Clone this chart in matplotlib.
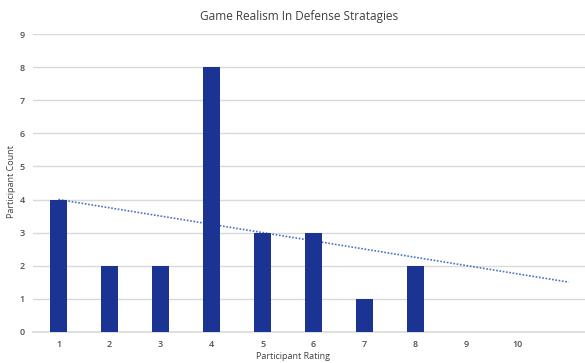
import numpy as np
import matplotlib
matplotlib.use("Agg")
import matplotlib.pyplot as plt

# Rating categories (the last slot is left unlabeled for the trend projection)
ratings = ["1", "2", "3", "4", "5", "6", "7", "8", "9", "10", ""]
counts = [4, 2, 2, 8, 3, 3, 1, 2, 0, 0, 0]
fit_points = 8       # linear trend fitted on ratings 1-8 ...
forward_periods = 3  # ... and projected forward

plt.rcParams["font.family"] = ["Open Sans", "DejaVu Sans"]

fig = plt.figure(figsize=(5.85, 3.63), dpi=100)
ax = fig.add_axes([0.0564, 0.0862, 0.9436, 0.8193])

x = np.arange(1, len(ratings) + 1)
ax.bar(x, counts, width=0.33, color="#1b3494", zorder=3)

# linear trendline
coef = np.polyfit(x[:fit_points], counts[:fit_points], 1)
tx = np.array([1, fit_points + forward_periods])
ax.plot(tx, np.polyval(coef, tx), linestyle=(0, (1, 1)), color="#4a72bf",
        linewidth=1.2, zorder=2)

ax.set_xlim(0.5, 11.32)
ax.set_ylim(0, 9)
ax.set_yticks(range(0, 10))
ax.set_xticks(x)
ax.set_xticklabels(ratings)
ax.yaxis.grid(True, color="#d9d9d9", linewidth=1.0, zorder=0)
ax.set_axisbelow(True)
for s in ["top", "right", "left"]:
    ax.spines[s].set_visible(False)
ax.spines["bottom"].set_color("#d9d9d9")
ax.spines["bottom"].set_linewidth(1.2)
ax.tick_params(axis="both", length=0, labelsize=6.5, colors="#505050")
for lbl in ax.get_xticklabels() + ax.get_yticklabels():
    lbl.set_fontweight("semibold")
ax.tick_params(axis="x", pad=6)
ax.tick_params(axis="y", pad=6)

fig.text(0.512, 0.955, "Game Realism In Defense Stratagies", ha="center", va="center",
         fontsize=8.5, color="#404040")
fig.text(0.5, 0.017, "Participant Rating", ha="center", va="center",
         fontsize=6.5, color="#404040")
fig.text(0.02, 0.5, "Participant Count", ha="center", va="center", rotation=90,
         fontsize=6.5, color="#404040")

fig.savefig("out.png", dpi=100)
